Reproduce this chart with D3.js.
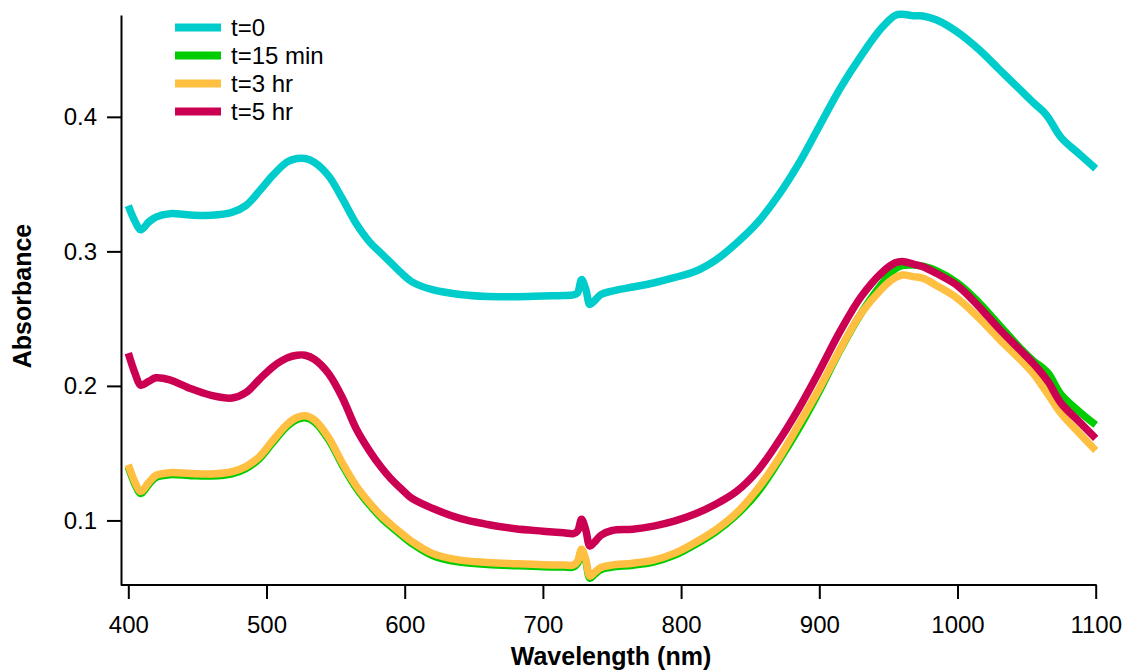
<!DOCTYPE html>
<html>
<head>
<meta charset="utf-8">
<script src="https://cdn.jsdelivr.net/npm/d3@7"></script>
<style>
  html, body { margin: 0; padding: 0; background: #fff; }
  svg { display: block; font-family: "Liberation Sans", Arial, sans-serif; }
</style>
</head>
<body>
<svg id="chart" width="1130" height="672"></svg>
<script>
const wavelengths = [400,405,409,415,420,430,445,460,475,485,495,505,515,522,528,535,545,555,565,575,583,590,598,605,620,640,660,680,700,715,722,725,728,731,734,737,742,750,765,780,795,810,825,840,855,870,885,900,915,930,945,955,960,968,975,985,1000,1015,1030,1045,1055,1062,1066,1075,1088,1100];

const seriesNames = ["t=0", "t=15 min", "t=3 hr", "t=5 hr"];
const seriesColors = ["#00cccc", "#00cc00", "#ffbf40", "#cc0052"];

const t0 = [0.334,0.322,0.316,0.322,0.3255,0.328,0.327,0.3268,0.329,0.334,0.345,0.357,0.3665,0.369,0.369,0.366,0.356,0.339,0.3205,0.3065,0.2985,0.2915,0.2835,0.2775,0.2715,0.268,0.2665,0.2662,0.2668,0.2672,0.2677,0.269,0.279,0.272,0.2605,0.263,0.268,0.2705,0.2735,0.2765,0.2805,0.285,0.2935,0.306,0.321,0.341,0.365,0.393,0.421,0.445,0.466,0.4755,0.4762,0.4752,0.475,0.472,0.463,0.4505,0.4355,0.4205,0.4105,0.404,0.399,0.3845,0.3725,0.3615];

const t15 = [0.1399,0.1265,0.12,0.127,0.132,0.134,0.1333,0.133,0.1347,0.1385,0.146,0.1585,0.17,0.175,0.1763,0.173,0.16,0.141,0.124,0.111,0.102,0.0955,0.0887,0.083,0.074,0.069,0.0673,0.0663,0.0655,0.0653,0.0653,0.068,0.077,0.0695,0.057,0.0595,0.0635,0.0653,0.0667,0.069,0.074,0.082,0.0915,0.104,0.1205,0.143,0.168,0.196,0.2265,0.2535,0.2755,0.287,0.2895,0.2898,0.289,0.2855,0.2765,0.2625,0.2455,0.2285,0.2185,0.213,0.209,0.1935,0.181,0.171];

const t3 = [0.1414,0.128,0.1215,0.1285,0.1335,0.1355,0.1348,0.1345,0.1362,0.14,0.1475,0.16,0.1715,0.1765,0.1778,0.1745,0.1615,0.1425,0.1255,0.1125,0.1035,0.097,0.0902,0.0845,0.0755,0.0705,0.0688,0.0678,0.067,0.0668,0.0668,0.0695,0.0785,0.071,0.0585,0.061,0.065,0.0668,0.0682,0.0705,0.0755,0.0835,0.093,0.1055,0.123,0.145,0.171,0.198,0.227,0.2535,0.272,0.2805,0.2825,0.2812,0.28,0.2745,0.265,0.251,0.235,0.22,0.209,0.199,0.193,0.1795,0.165,0.152];

const t5 = [0.2244,0.209,0.2005,0.2035,0.206,0.2045,0.198,0.193,0.191,0.195,0.205,0.2145,0.2208,0.2228,0.2228,0.2195,0.209,0.191,0.168,0.151,0.1395,0.131,0.123,0.1165,0.109,0.1015,0.097,0.0938,0.092,0.0908,0.0902,0.092,0.1008,0.093,0.081,0.0835,0.089,0.0925,0.0935,0.0958,0.0995,0.1048,0.112,0.1215,0.1365,0.158,0.183,0.211,0.2405,0.266,0.284,0.2915,0.2925,0.2905,0.2885,0.2835,0.2745,0.2595,0.2425,0.227,0.2165,0.208,0.2025,0.187,0.1735,0.161];

const seriesValues = [t0, t15, t3, t5];
const xTicks = [400,500,600,700,800,900,1000,1100];
const yTicks = [0.1,0.2,0.3,0.4];

const svg = d3.select("#chart");
const x = d3.scaleLinear().domain([400,1100]).range([128.3,1095.7]);
const y = d3.scaleLinear().domain([0.052,0.4757]).range([585,15]);
const axisX0 = 121;
const FONT = "Liberation Sans, Arial, sans-serif";

// x axis
const gx = svg.append("g").attr("transform","translate(0,585)")
  .call(d3.axisBottom(x).tickValues(xTicks).tickFormat(d3.format("d")).tickSize(14).tickPadding(17).tickSizeOuter(0));
gx.select(".domain").remove();
gx.selectAll(".tick line").attr("stroke","#000").attr("stroke-width",2);
gx.selectAll(".tick text").attr("font-size",24).attr("fill","#000").attr("font-family",FONT);
svg.append("line").attr("x1",axisX0).attr("x2",x(1100)+1).attr("y1",585).attr("y2",585).attr("stroke","#000").attr("stroke-width",2);

// y axis
const gy = svg.append("g").attr("transform",`translate(${axisX0},0)`)
  .call(d3.axisLeft(y).tickValues(yTicks).tickFormat(d3.format(".1f")).tickSize(14).tickPadding(10).tickSizeOuter(0));
gy.select(".domain").attr("stroke","#000").attr("stroke-width",2);
gy.selectAll(".tick line").attr("stroke","#000").attr("stroke-width",2);
gy.selectAll(".tick text").attr("font-size",24).attr("fill","#000").attr("font-family",FONT);

// axis titles
svg.append("text").attr("x",611).attr("y",665).attr("text-anchor","middle")
  .attr("font-size",25).attr("font-weight","bold").attr("font-family",FONT).text("Wavelength (nm)");
svg.append("text").attr("transform","translate(31,296) rotate(-90)").attr("text-anchor","middle")
  .attr("font-size",25).attr("font-weight","bold").attr("font-family",FONT).text("Absorbance");

// lines
const line = d3.line().x(d => x(d[0])).y(d => y(d[1])).curve(d3.curveCatmullRom.alpha(0.5));
seriesValues.forEach((vals, i) => {
  svg.append("path")
    .datum(wavelengths.map((w, j) => [w, vals[j]]))
    .attr("fill","none")
    .attr("stroke",seriesColors[i])
    .attr("stroke-width",7.5)
    .attr("stroke-linejoin","round")
    .attr("d",line);
});

// legend
const legend = svg.append("g");
seriesNames.forEach((name, i) => {
  const ly = 27.5 + i * 28;
  legend.append("line").attr("x1",175).attr("x2",221).attr("y1",ly).attr("y2",ly)
    .attr("stroke",seriesColors[i]).attr("stroke-width",8);
  legend.append("text").attr("x",231).attr("y",ly).attr("dy","0.35em")
    .attr("font-size",24).attr("fill","#000").attr("font-family",FONT).text(name);
});
</script>
</body>
</html>
